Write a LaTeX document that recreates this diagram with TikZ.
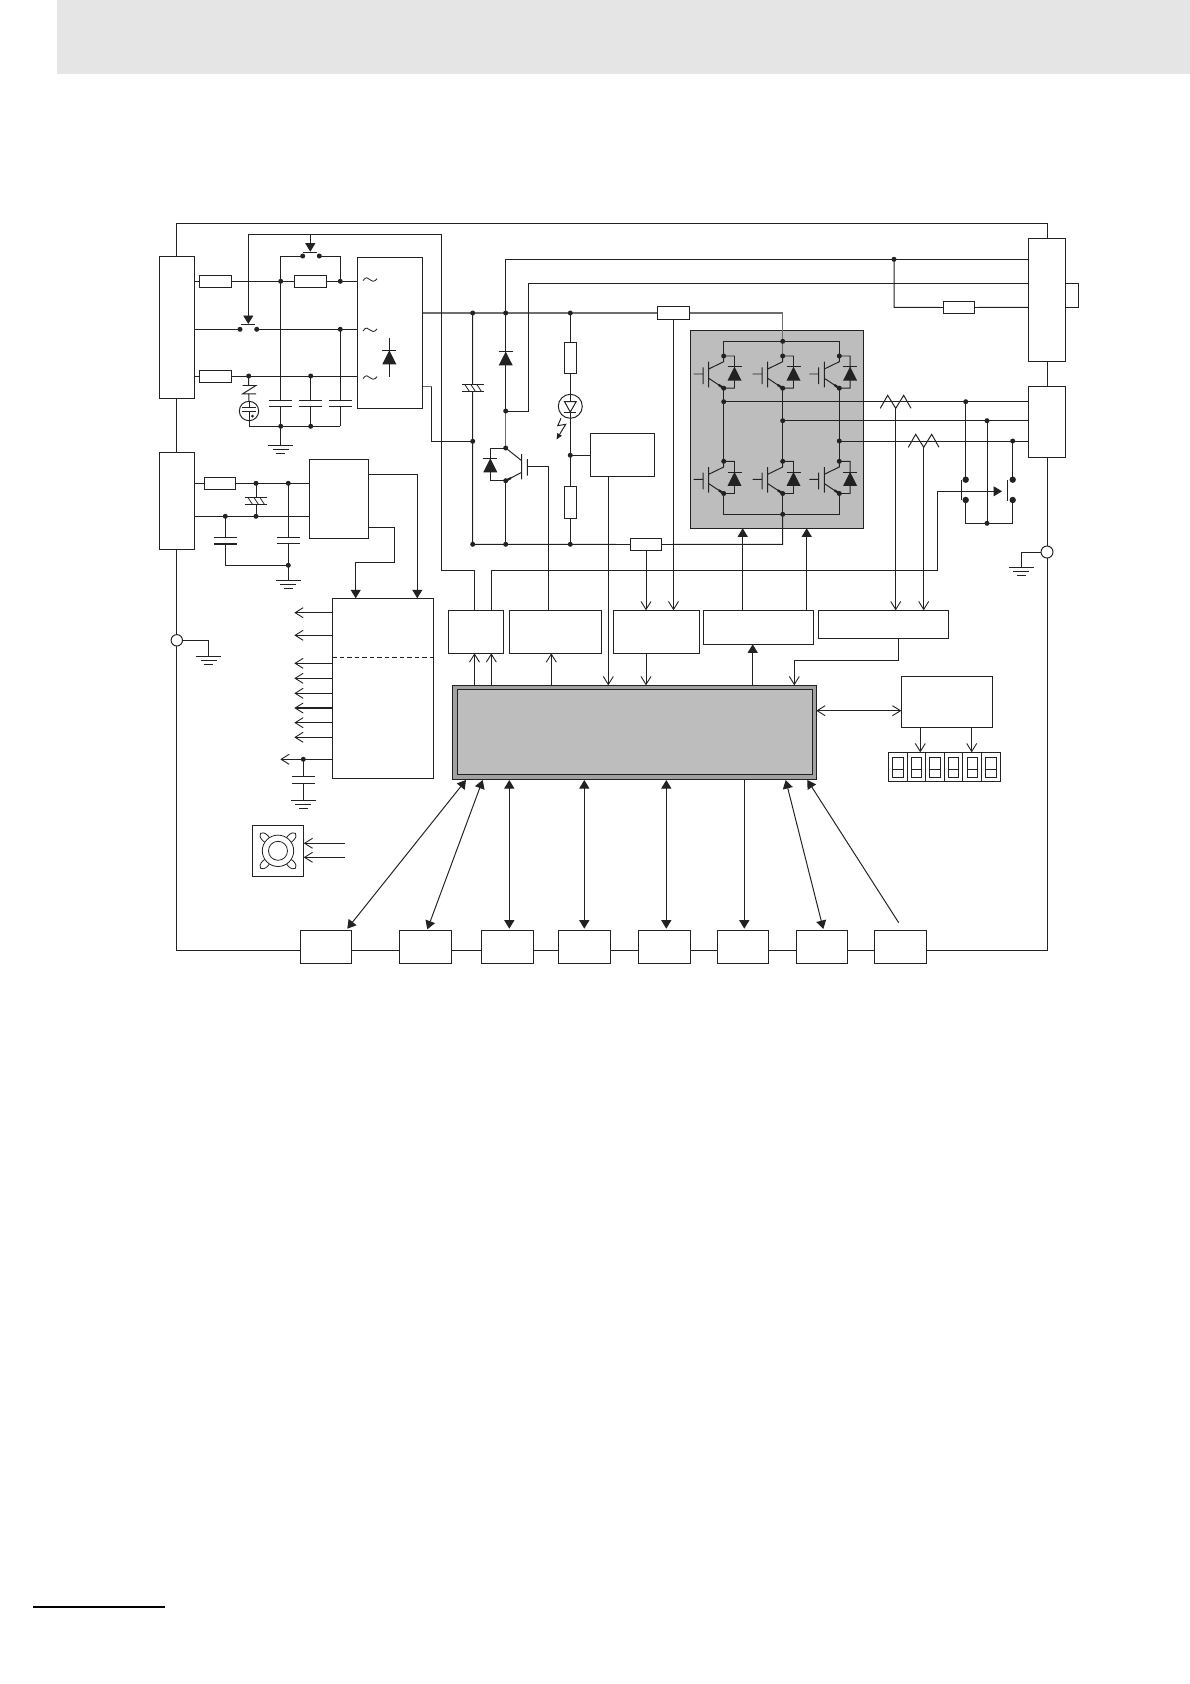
\documentclass[tikz,border=0pt]{standalone}
\usetikzlibrary{arrows.meta,calc}
\definecolor{ink}{HTML}{222222}
\definecolor{busgray}{HTML}{6E6E6E}
\definecolor{headgray}{HTML}{E5E5E5}
\definecolor{modgray}{HTML}{BDBDBD}
\pgfdeclarelayer{base}
\pgfdeclarelayer{bg}
\pgfsetlayers{base,bg,main}
\tikzset{
  wire/.style={draw=ink,line width=0.98pt,line join=miter},
  grayw/.style={draw=busgray,line width=1.2pt},
  thinw/.style={draw=ink,line width=0.8pt},
  boxst/.style={draw=ink,fill=white,line width=0.98pt,inner sep=0pt,outer sep=0pt},
  opnarrow/.style={wire,-{Straight Barb[length=8pt,width=10pt,line width=0.9pt]}},
  opntwo/.style={wire,{Straight Barb[length=8pt,width=10pt,line width=0.9pt]}-{Straight Barb[length=8pt,width=10pt,line width=0.9pt]}},
  filarrow/.style={wire,-{Triangle[length=8.5pt,width=10pt]}},
  filtwo/.style={wire,{Triangle[length=8.5pt,width=10pt]}-{Triangle[length=8.5pt,width=10pt]}},
}
\newcommand\cpt[3]{\coordinate (#1) at (#2,#3);}
\newcommand\mybox[5]{\node[boxst,minimum width={(#4-#2)*1pt},minimum height={(#5-#3)*1pt}] (#1) at ({(#2+#4)/2},{(#3+#5)/2}) {};}
\newcommand\jd[1]{\fill[ink] (#1) circle (2.5);}
\newcommand\gnd[1]{\begin{scope}[shift={(#1)}]\draw[wire] (-12.3,0)--(12.3,0) (-8,4)--(8,4) (-4.3,8)--(4.3,8);\end{scope}}
% capacitor below a coordinate: plate offsets, end offset
\newcommand\capv[4]{\begin{scope}[shift={(#1)}]\draw[wire] (0,0)--(0,#2) (-11.3,#2)--(11.3,#2) (-11.3,#3)--(11.3,#3) (0,#3)--(0,#4);\end{scope}}
% diode pointing up: centre x, bar y, base y
\newcommand\diodeup[3]{\draw[wire] (#1-7,#2)--(#1+7,#2); \fill[ink] (#1-7,#3)--(#1+7,#3)--(#1,#2)--cycle;}
\newcommand\igbt[1]{\begin{scope}[shift={(#1)}]
  \draw[wire] (-30,18)--(-20.6,18) (-20.6,11.3)--(-20.6,28) (-15,5.7)--(-15,31.3) (-15,13)--(0,5.7)--(0,0) (-15,22.3)--(0,32.2) (0,0)--(10.8,0)--(10.8,32.2)--(0,32.2);
  \draw[ink,line width=2.2pt] (-5,28.9)--(0,32.2);
  \draw[wire] (3.8,10.7)--(17.8,10.7);
  \fill[ink] (3.8,24.5)--(17.8,24.5)--(10.8,10.7)--cycle;
  \fill[ink] (0,0) circle (2.5) (0,32.2) circle (2.5);
\end{scope}}
\newcommand\tildemark[1]{\begin{scope}[shift={(#1)}]\draw[thinw] (-7,1) .. controls (-4.5,-3.5) and (-1.5,-2) .. (0,0) .. controls (1.5,2) and (4.5,2.5) .. (7,-1);\end{scope}}
\newcommand\hcapb[1]{\begin{scope}[shift={(#1)}]\fill[white] (-8,-3.5) rectangle (8,3.5);\draw[wire] (-11.2,-3.4)--(11.2,-3.4) (-11.2,3.4)--(11.2,3.4);\draw[thinw] (-8,-3.4)--(-3.5,3.4) (-2,-3.4)--(2.5,3.4) (4,-3.4)--(8.5,3.4);\end{scope}}
\begin{document}
\begin{tikzpicture}[x=1pt,y=-1pt]
\useasboundingbox (0,0) rectangle (1190,1684);
\begin{pgfonlayer}{base}
\fill[headgray] (57,0) rectangle (1190,74);
\draw[black,line width=2.2pt] (33,1607)--(165,1607);
\end{pgfonlayer}
% ---- boxes
\mybox{Lone}{159.3}{256.3}{194.3}{398.3}
\mybox{Ltwo}{159.3}{452.3}{194.3}{549.3}
\mybox{Rone}{1028.3}{238.3}{1065.7}{361.3}
\mybox{Rtwo}{1028.3}{386.3}{1065.7}{457.7}
\mybox{Ra}{199.3}{275.3}{231.7}{287.7}
\mybox{Rb}{294.3}{275.3}{326.7}{287.7}
\mybox{Rc}{199.3}{370.3}{231.7}{382.7}
\mybox{REC}{357.3}{257.3}{422.7}{408.3}
\mybox{Rd}{657.3}{306.3}{689.7}{319.7}
\mybox{Re}{943.3}{301.3}{974.7}{313.7}
\mybox{Rf}{630.3}{538.3}{661.7}{550.7}
\mybox{Rg}{564.3}{342.3}{576.7}{373.7}
\mybox{Rh}{564.3}{486.3}{576.7}{518.3}
\mybox{CHG}{590.3}{433.3}{654.7}{476.7}
\mybox{Ri}{204.3}{477.3}{235.7}{489.3}
\mybox{DC}{309.3}{459.3}{368.7}{538.3}
\mybox{PW}{332.3}{598.3}{433.7}{778.3}
\mybox{A}{448.3}{610.3}{503.3}{653.3}
\mybox{B}{509.3}{610.3}{601.7}{653.3}
\mybox{C}{613.3}{610.3}{699.3}{653.3}
\mybox{D}{703.3}{610.3}{813.7}{644.3}
\mybox{E}{818.3}{610.3}{948.3}{638.3}
\mybox{DISP}{901.3}{676.3}{992.7}{727.3}
\mybox{SEG}{888.3}{752.3}{1000.7}{781.7}
\mybox{FAN}{252.3}{825.3}{303.7}{876.3}
\mybox{Bo}{300.3}{930.3}{351.3}{963.3}
\mybox{Bp}{399.3}{930.3}{451.7}{963.3}
\mybox{Bq}{481.3}{930.3}{533.3}{963.3}
\mybox{Br}{558.3}{930.3}{610.3}{963.3}
\mybox{Bs}{638.3}{930.3}{690.7}{963.3}
\mybox{Bt}{717.3}{930.3}{768.3}{963.3}
\mybox{Bu}{796.3}{930.3}{847.7}{963.3}
\mybox{Bv}{874.3}{930.3}{926.7}{963.3}
% main CPU box
\node[draw=ink,fill=modgray!85!black,line width=0.98pt,inner sep=0pt,outer sep=0pt,minimum width=364pt,minimum height=94pt] (CPU) at (634.3,732.3) {};
\node[draw=ink,fill=modgray,line width=0.98pt,inner sep=0pt,minimum width=355.4pt,minimum height=85pt] (CPUin) at (635,731.8) {};
% ---- module
\begin{pgfonlayer}{base}
\node[draw=ink,fill=modgray,line width=0.98pt,inner sep=0pt,outer sep=0pt,minimum width=173pt,minimum height=198pt] (MOD) at (777.2,429.3) {};
\end{pgfonlayer}
% ---- coordinates
\cpt{TR}{1047}{223.5}\cpt{BR}{1047}{950.3}\cpt{BL}{176.8}{950.3}
\cpt{Yt}{0}{281.3}\cpt{Ym}{0}{329.3}\cpt{Yb}{0}{376}
\cpt{kL}{240}{329.3}\cpt{kR}{256.7}{329.3}
\cpt{ua}{302.7}{256}\cpt{ub}{319.3}{256}\cpt{ula}{280.7}{256}\cpt{ulb}{340.3}{256}
\cpt{jta}{280.7}{281.3}\cpt{jtb}{340.3}{281.3}\cpt{jm}{340.3}{329.3}
\cpt{jba}{248.7}{376}\cpt{jbb}{310.7}{376}
\cpt{cbz}{249}{426.3}\cpt{cba}{280.7}{426.3}\cpt{cbb}{310.7}{426.3}\cpt{cbc}{340.3}{426.3}
\cpt{gda}{280.7}{445.3}
\cpt{Bus}{0}{313}\cpt{jbusa}{472.7}{313}\cpt{jbusb}{505.7}{313}\cpt{jbusc}{570.3}{313}
\cpt{busc}{782.7}{313}\cpt{modtop}{782.7}{341.3}
\cpt{Neg}{431.7}{386.7}\cpt{Negb}{431.7}{441.3}\cpt{jneg}{472.7}{441.3}\cpt{jlow}{472.7}{544.3}
\cpt{jlb}{505.7}{544.3}\cpt{jlc}{570.3}{544.3}
\cpt{modlow}{782.7}{544.3}\cpt{modbot}{782.7}{514.3}
\cpt{wa}{505.7}{259.3}\cpt{wb}{528.7}{283.3}\cpt{wc}{528.7}{411}\cpt{jwc}{505.7}{411}\cpt{jc}{505.7}{448}\cpt{je}{505.7}{480.7}
\cpt{jn}{894}{259.3}\cpt{jnb}{894}{307.3}
\cpt{taba}{1078.3}{283.3}\cpt{tabb}{1078.3}{307.3}
\cpt{gate}{527.3}{466.7}\cpt{gatb}{548.3}{466.7}
\cpt{jchg}{570.3}{455.3}
\cpt{oa}{723.7}{401.7}\cpt{ob}{782.7}{420.7}\cpt{oc}{839.3}{441}
\cpt{da}{965.7}{401.7}\cpt{db}{987}{420.7}\cpt{dc}{1012.7}{441}
\cpt{dua}{965.7}{479.7}\cpt{duc}{1012.7}{479.7}\cpt{dla}{965.7}{500}\cpt{dlc}{1012.7}{500}
\cpt{dba}{965.7}{523.3}\cpt{dbb}{987}{523.3}\cpt{dbc}{1012.7}{523.3}
\cpt{GR}{1047}{552}\cpt{GL}{176.8}{640.3}
\cpt{gra}{1021.3}{552}\cpt{grb}{1021.3}{567.3}
\cpt{gla}{208.7}{640.3}\cpt{glb}{208.7}{656.3}
\cpt{ljt}{256}{483.3}\cpt{ljb}{256}{516.3}\cpt{lja}{288.3}{483.3}\cpt{ljc}{225.3}{516.3}
\cpt{ljd}{288.3}{565.3}\cpt{lje}{225.3}{565.3}\cpt{ljg}{288.3}{580}
% ---- wires behind the boxes
\begin{pgfonlayer}{bg}
\draw[wire] (Lone.north) |- (TR) -- (Rone.north);
\draw[wire] (Lone.south) -- (Ltwo.north);
\draw[wire] (Rone.south) -- (Rtwo.north);
\draw[wire] (Rtwo.south) -- (BR) -- (BL) -- (Ltwo.south);
\draw[wire] (Lone.east |- Yt) -- (REC.west |- Yt);
\draw[wire] (Lone.east |- Ym) -- (kL);
\draw[wire] (kR) -- (REC.west |- Ym);
\draw[wire] (Lone.east |- Yb) -- (REC.west |- Yb);
\draw[wire] (ua) -- (ula) -- (jta);
\draw[wire] (ub) -- (ulb) -- (jtb);
\draw[wire] (cbz) -- (cbc);
\draw[wire] (cba) -- (gda);
\draw[grayw] (REC.east |- Bus) -- (busc) -- (modtop);
\draw[grayw] (REC.east |- Neg) -- (Neg);
\draw[wire] (Neg) -- (Negb) -- (jneg);
\draw[wire] (jbusa) -- (jlow) -- (Rf.west);
\draw[wire] (Rf.east) -- (modlow) -- (modbot);
\draw[wire] (wa) -- (jwc);
\draw[grayw] (jwc) -- (jc);
\draw[wire] (je) -- (jlb);
\draw[wire] (wa) -- (Rone.west |- wa);
\draw[wire] (wc) -- (wb) -- (Rone.west |- wb);
\draw[wire] (jwc) -- (wc);
\draw[wire] (jn) -- (jnb) -- (Re.west);
\draw[wire] (Re.east) -- (Rone.west |- jnb);
\draw[wire] (Rone.east |- taba) -- (taba) -- (tabb) -- (Rone.east |- tabb);
\draw[wire] (jbusc) -- (jlc);
\draw[wire] (jchg) -- (CHG.west |- jchg);
\draw[wire] (oa) -- (Rtwo.west |- oa);
\draw[wire] (ob) -- (Rtwo.west |- ob);
\draw[wire] (oc) -- (Rtwo.west |- oc);
\draw[wire] (da) -- (dua) (dc) -- (duc) (db) -- (dbb) (dla) -- (dba) -- (dbc) -- (dlc);
\draw[wire] (Ltwo.east |- ljt) -- (DC.west |- ljt);
\draw[wire] (Ltwo.east |- ljb) -- (DC.west |- ljb);
\draw[wire] (ljt) -- (ljb);
\draw[wire] (lje) -- (ljd) -- (ljg);
\draw[wire] (GR) -- (gra) -- (grb);
\draw[wire] (GL) -- (gla) -- (glb);
\end{pgfonlayer}
% module internals
\draw[wire] (723.7,356)--(723.7,341.3)--(839.3,341.3)--(839.3,356);
\draw[grayw] (modtop)--(782.7,356);
\foreach \xx in {723.7,782.7,839.3}{\draw[wire] (\xx,388.2)--(\xx,461.3);}
\draw[wire] (723.7,493.5)--(723.7,514.3)--(839.3,514.3)--(839.3,493.5);
\draw[wire] (782.7,493.5)--(modbot);
\igbt{723.7,356}\igbt{782.7,356}\igbt{839.3,356}
\igbt{723.7,461.3}\igbt{782.7,461.3}\igbt{839.3,461.3}
\foreach \pp in {oa,ob,oc,modbot,modtop}{\jd{\pp}}
% junctions
\foreach \pp in {jta,jtb,jm,jba,jbb,cba,cbb,jbusa,jbusb,jbusc,jneg,jlow,jlb,jlc,jwc,jc,je,jn,jchg,da,db,dc,dbb,ljt,ljb,lja,ljc,ljd}{\jd{\pp}}
\foreach \pp in {ua,ub,kL,kR}{\jd{\pp}}
\foreach \pp in {dua,duc,dla,dlc}{\fill[ink] (\pp) circle (3.2);}
% capacitors
\capv{jta}{119}{125}{145}
\capv{jbb}{24.3}{30.3}{50.3}
\capv{jm}{71}{77}{97}
\capv{lja}{54}{60}{82}
\begin{scope}[shift={(ljc)}]
\draw[wire] (0,0)--(0,21) (-11.3,21)--(11.3,21);
\draw[ink,line width=2.2pt] (-11.3,27.4)--(11.3,27.4);
\draw[wire] (0,27.4)--(0,49);
\end{scope}
\draw[wire] (lje)--(ljd);
\gnd{gda}\gnd{ljg}\gnd{grb}\gnd{glb}
\hcapb{472.7,387.7}
\hcapb{256,501}
% tildes and rectifier diode
\tildemark{370,279.7}\tildemark{370,330}\tildemark{370,377.7}
\draw[wire] (389.3,338.3)--(389.3,376.7);
\diodeup{389.3}{350.3}{364.3}
% surge symbol
\draw[wire] (jba)--(248.7,385.5)  (242.7,385.5)--(256,385.5)--(242.7,393.8)--(256,393.8) (248.7,393.8)--(249,401);
\draw[wire,fill=white] (249,411) circle (9.7);
\draw[wire] (249,401.3)--(249,407.7) (242.3,407.7)--(255.7,407.7) (242.3,411.3)--(255.7,411.3) (249,411.3)--(cbz);
\fill[ink] (252.5,416) circle (1.5);
% contacts with relay coil arrows
\draw[wire] (241,324)--(255,324);
\draw[wire] (303,252.3)--(316.7,252.3);
\cpt{qa}{474.7}{570.3}\cpt{qb}{441.7}{570.3}\cpt{qc}{441.7}{234.3}\cpt{qd}{248.3}{234.3}\cpt{qe}{248.3}{324}\cpt{qf}{310.3}{234.3}\cpt{qg}{310.3}{251.7}
\draw[filarrow] (A.north -| qa) -- (qa) -- (qb) -- (qc) -- (qd) -- (qe);
\draw[filarrow] (qf) -- (qg);
% DC box outputs
\cpt{pa}{417.3}{474.3}\cpt{pb}{394.7}{527.3}\cpt{pc}{394.7}{562.3}\cpt{pd}{355.7}{562.3}
\draw[filarrow] (DC.east |- pa) -- (pa) -- (PW.north -| pa);
\draw[filarrow] (DC.east |- pb) -- (pb) -- (pc) -- (pd) -- (PW.north -| pd);
\draw[wire,dashed,dash pattern=on 4.5pt off 3pt] (PW.west |- 0,657.3) -- (PW.east |- 0,657.3);
\cpt{tipL}{294.3}{0}
\foreach \yy in {612.7,635.3,663.3,678.3,693.3,722.7,737.3}{\draw[opnarrow] (PW.west |- 0,\yy) -- (tipL |- 0,\yy);}
\draw[opnarrow,line width=1.7pt] (PW.west |- 0,708) -- (tipL |- 0,708);
\cpt{pv}{303.3}{759.3}\cpt{pw}{280.3}{759.3}\cpt{pg}{303.3}{800.3}
\draw[opnarrow] (PW.west |- pv) -- (pw);
\jd{pv}
\capv{pv}{17}{24}{41}
\gnd{pg}
% brake transistor
\draw[wire] (jc)--(521.7,460.7) (521.7,454)--(521.7,479.3) (521.7,472.3)--(je) (527.3,459)--(527.3,475.7);
\draw[ink,line width=2.2pt] (511,478)--(je);
\draw[wire] (jc)--(490.3,448)--(490.3,480.7)--(je);
\diodeup{490.3}{458.3}{472.3}
\diodeup{505.7}{351.7}{365.3}
\draw[wire] (gate)--(gatb)--(B.north -| gatb);
% LED
\draw[wire,fill=white] (570.3,406.3) circle (12);
\draw[wire] (570.3,394.3)--(570.3,401.7) (570.3,412)--(570.3,418.3) (564.3,412)--(576.3,412);
\draw[wire] (564.5,401.7)--(576.1,401.7)--(570.3,412)--cycle;
\draw[wire,-{Triangle[length=6pt,width=5pt]}] (561,418.3)--(557.7,425.7)--(565.7,424.3)--(556.5,439.5);
% lower wires
\cpt{cc}{608.3}{0}
\draw[opnarrow] (Rd.south) -- (C.north -| Rd.south);
\draw[opnarrow] (Rf.south) -- (C.north -| Rf.south);
\draw[opnarrow] (CHG.south -| cc) -- (CPU.north -| cc);
\draw[filarrow] (D.north -| 742.7,0) -- (MOD.south -| 742.7,0);
\draw[filarrow] (D.north -| 806.7,0) -- (MOD.south -| 806.7,0);
\draw[opnarrow] (CPU.north -| 474.5,0) -- (A.south -| 474.5,0);
\draw[opnarrow] (CPU.north -| 491.3,0) -- (A.south -| 491.3,0);
\draw[opnarrow] (CPU.north -| 551.3,0) -- (B.south -| 551.3,0);
\draw[opnarrow] (C.south -| Rf.south) -- (CPU.north -| Rf.south);
\draw[filarrow] (CPU.north -| 752.7,0) -- (D.south -| 752.7,0);
\cpt{ea}{898.7}{660.3}\cpt{eb}{794.3}{660.3}
\draw[wire,opnarrow] (E.south -| ea) -- (ea) -- (eb) -- (CPU.north -| eb);
\draw[opntwo] (CPU.east |- 0,710.7) -- (DISP.west |- 0,710.7);
\draw[opnarrow] (DISP.south -| 920.3,0) -- (SEG.north -| 920.3,0);
\draw[opnarrow] (DISP.south -| 971.7,0) -- (SEG.north -| 971.7,0);
% relay wire to the brake contact
\cpt{ra}{491.3}{570.3}\cpt{rb}{937.7}{570.3}\cpt{rc}{937.7}{491.3}\cpt{rd}{1002}{491.3}
\draw[filarrow] (A.north -| ra) -- (ra) -- (rb) -- (rc) -- (rd);
\draw[wire] (961.3,480)--(961.3,500) (1007.7,480)--(1007.7,501);
% current sensors
\draw[wire] (880.3,408.3)--(887.7,395.3)--(895.7,408.3)--(903.7,395.3)--(911,408.3);
\draw[wire] (908.3,447.3)--(915.7,434.3)--(923.7,447.3)--(931.7,434.3)--(939,447.3);
\cpt{sa}{895.7}{408.3}\cpt{sb}{923.7}{447.3}
\draw[opnarrow] (sa) -- (E.north -| sa);
\draw[opnarrow] (sb) -- (E.north -| sb);
% earth circles
\draw[wire,fill=white] (GR) circle (6);
\draw[wire,fill=white] (GL) circle (5.7);
% seven segment digits
\foreach \xx in {907.3,925.3,944.7,962.7,981.7}{\draw[wire] (\xx,752.3)--(\xx,781.7);}
\foreach \xa/\xb in {892.3/903.7,911.3/921.7,929.7/940.3,948.3/958.3,967.3/977.3,985.7/996.3}{
  \draw[thinw] (\xa,757.7) rectangle (\xb,777.7) (\xa,769)--(\xb,769);}
% fan
\begin{scope}[shift={(FAN.center)}]
\foreach \aa in {45,135,225,315}{\draw[thinw,rotate=\aa] (18.2,0) ellipse (6.5 and 3.6);}
\draw[thinw,fill=white] (0,0) circle (15.7);
\draw[thinw] (0,0) circle (9.5);
\end{scope}
\draw[opnarrow] (344.7,843.3) -- (FAN.east |- 0,843.3);
\draw[opnarrow] (344.7,857.3) -- (FAN.east |- 0,857.3);
% bus arrows
\cpt{za}{347.3}{928.7}\cpt{zb}{466}{780}
\cpt{zc}{427.3}{929.3}\cpt{zd}{482.7}{780}
\draw[filtwo] (za)--(zb);
\draw[filtwo] (zc)--(zd);
\draw[filtwo] (509.3,928.7)--(509.3,780);
\draw[filtwo] (584.3,928.7)--(584.3,780);
\draw[filtwo] (666.3,928.7)--(666.3,780);
\draw[filarrow] (CPU.south -| 744.3,0)--(744.3,928.7);
\cpt{ze}{823.3}{929}\cpt{zf}{785.7}{780}\cpt{zg}{898.7}{922.7}\cpt{zh}{807.3}{780}
\draw[filtwo] (ze)--(zf);
\draw[filarrow] (zg)--(zh);
\end{tikzpicture}
\end{document}
